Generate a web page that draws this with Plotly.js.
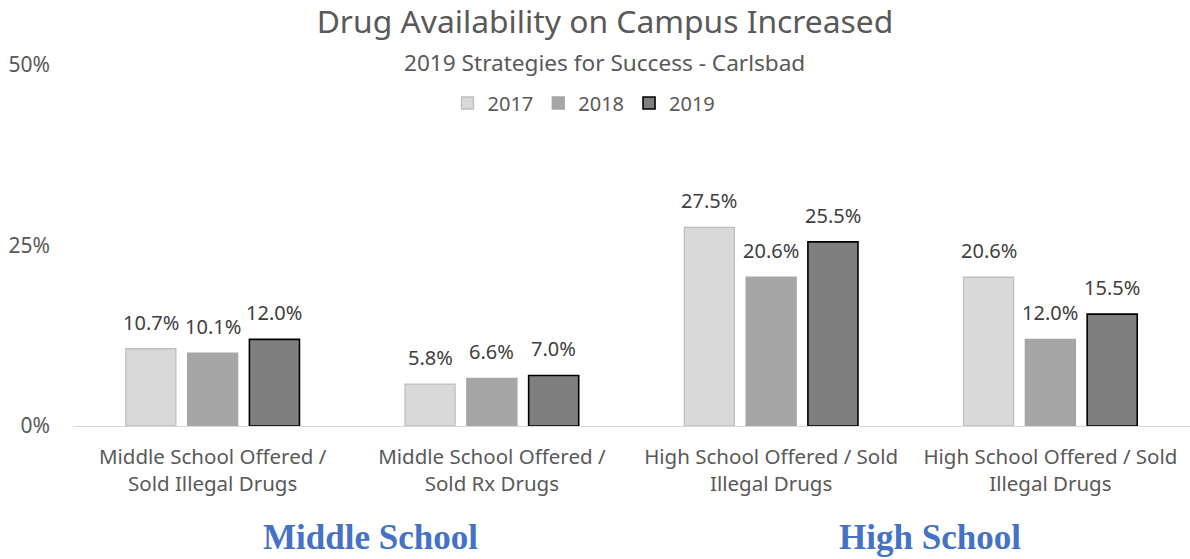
<!DOCTYPE html>
<html>
<head>
<meta charset="utf-8">
<script src="https://cdn.plot.ly/plotly-3.0.1.min.js"></script>
<style>html,body{margin:0;padding:0;background:#fff;}#chart{width:1190px;height:559px;}</style>
</head>
<body>
<div id="chart"></div>
<script>
const categories = [
  "Middle School Offered /<br>Sold Illegal Drugs",
  "Middle School Offered /<br>Sold Rx Drugs",
  "High School Offered / Sold<br>Illegal Drugs",
  "High School Offered / Sold<br>Illegal Drugs"
];
const years = ["2017", "2018", "2019"];
const values2017 = [0.107, 0.058, 0.275, 0.206];
const values2018 = [0.101, 0.066, 0.206, 0.120];
const values2019 = [0.120, 0.070, 0.255, 0.155];
const groupLabels = ["Middle School", "High School"];

const positions = categories.map((c, i) => i);
const fills = ["#d9d9d9", "#a6a6a6", "#7f7f7f"];
const outlines = ["#bfbfbf", "#a6a6a6", "#000000"];
const series = [values2017, values2018, values2019];
const font = "'Noto Sans', 'Open Sans', sans-serif";
const bargap = 0.336;

const traces = series.map((vals, k) => ({
  type: "bar",
  name: years[k],
  x: positions,
  y: vals,
  marker: {color: fills[k], line: {color: outlines[k], width: k === 2 ? 1.6 : 1.3}},
  hoverinfo: "skip"
}));

// value labels placed through the axes (group offset derived from bargap)
const slot = (1 - bargap) / series.length;
const valueLabels = [];
series.forEach((vals, k) => {
  vals.forEach((v, i) => {
    valueLabels.push({
      xref: "x", yref: "y", x: positions[i] + (k - (series.length - 1) / 2) * slot, y: v,
      text: (v * 100).toFixed(1) + "%", showarrow: false,
      xanchor: "center", yanchor: "bottom", yshift: 11,
      font: {family: font, size: 20, color: "#404040"}
    });
  });
});

const pw = 1190 - 73, ph = 559 - 65 - 133;
function px(x) { return (x - 73) / pw; }
function py(y) { return (426 - y) / ph; }

const layout = {
  width: 1190, height: 559,
  margin: {l: 73, r: 0, t: 65, b: 133, autoexpand: false},
  paper_bgcolor: "#fff", plot_bgcolor: "#fff",
  barmode: "group", bargap: bargap, bargroupgap: 0.19,
  font: {family: font, color: "#595959"},
  title: {text: "Drug Availability on Campus Increased", x: 605 / 1190, xanchor: "center",
          y: 1 - 22 / 559, yref: "container", yanchor: "middle",
          font: {family: font, size: 31.8, color: "#595959"}},
  xaxis: {
    range: [-0.5, 3.5], tickvals: positions, ticktext: categories,
    showgrid: false, zeroline: false, showline: true, linecolor: "#d9d9d9", linewidth: 1.3,
    ticks: "", ticklabelstandoff: 12,
    tickfont: {family: font, size: 20.5, color: "#595959"}, fixedrange: true
  },
  yaxis: {
    range: [0, 0.5], tickvals: [0, 0.25, 0.5], ticktext: ["0%", "25%", "50%"],
    showgrid: false, zeroline: false, showline: false, ticks: "",
    ticklabelstandoff: 22,
    tickfont: {family: font, size: 21, color: "#595959"}, fixedrange: true
  },
  showlegend: true,
  legend: {orientation: "h", xref: "container", yref: "container", x: 584 / 1190, xanchor: "center",
           y: 1 - 103 / 559, yanchor: "middle", font: {family: font, size: 20, color: "#595959"},
           traceorder: "normal", itemclick: false, itemwidth: 30},
  annotations: valueLabels.concat([
    {text: "2019 Strategies for Success - Carlsbad", xref: "paper", yref: "paper",
     x: px(604), y: py(62), xanchor: "center", yanchor: "middle", showarrow: false,
     font: {family: font, size: 22.6, color: "#595959"}},
    {text: "<b>" + groupLabels[0] + "</b>", xref: "paper", yref: "paper",
     x: px(370), y: py(559), xanchor: "center", yanchor: "bottom", showarrow: false,
     font: {family: "'Liberation Serif', serif", size: 35, color: "#4472C4"}},
    {text: "<b>" + groupLabels[1] + "</b>", xref: "paper", yref: "paper",
     x: px(930), y: py(559), xanchor: "center", yanchor: "bottom", showarrow: false,
     font: {family: "'Liberation Serif', serif", size: 35, color: "#4472C4"}}
  ])
};

Plotly.newPlot("chart", traces, layout, {displayModeBar: false, staticPlot: true});
</script>
</body>
</html>
